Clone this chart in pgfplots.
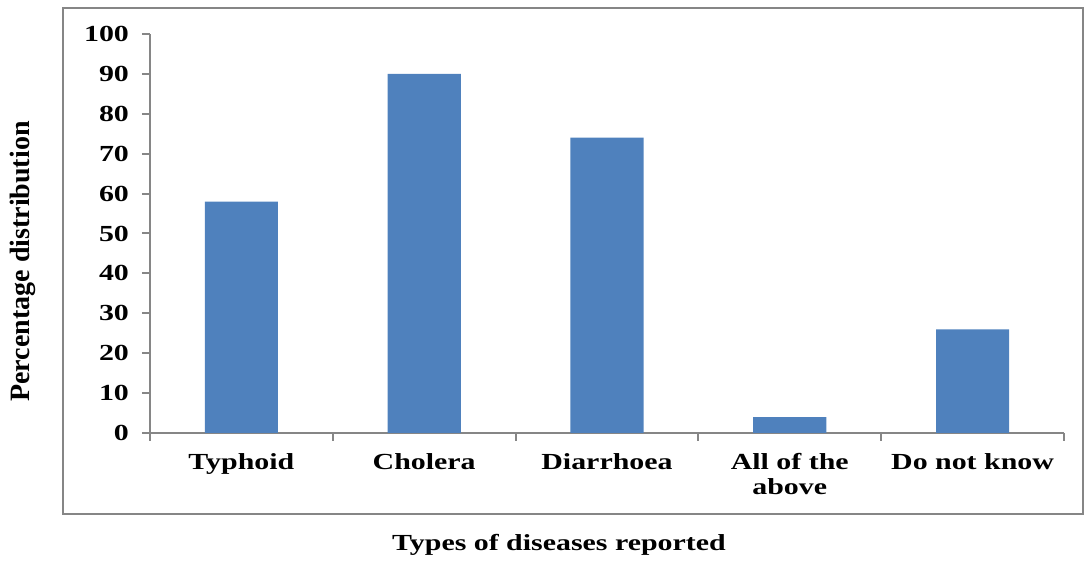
\documentclass[border=0pt]{standalone}
\usepackage{fontspec}
\setmainfont{Liberation Serif}
\newfontfamily\wide{Liberation Serif}[FakeStretch=1.3]
\usepackage{pgfplots}
\pgfplotsset{compat=1.18}
\definecolor{barblue}{HTML}{4F81BD}
\definecolor{axisgray}{HTML}{868686}
\begin{document}
\begin{tikzpicture}
\path (-75pt,-62.5pt) rectangle (467pt,216.5pt);
\draw[axisgray, line width=1.2pt] (-43.5pt,-40.5pt) rectangle (466.4pt,212.5pt);
\begin{axis}[
    scale only axis,
    width=457pt, height=199.5pt,
    at={(0,0)}, anchor=south west,
    ybar, bar width=0.4, bar shift=0pt,
    xmin=-0.5, xmax=4.5,
    ymin=0, ymax=100,
    axis x line*=bottom, axis y line*=left,
    axis line style={axisgray, line width=1pt},
    xtick={0,1,2,3,4},
    xticklabels={Typhoid, Cholera, Diarrhoea, {All of the\\above}, Do not know},
    minor xtick={-0.5,0.5,1.5,2.5,3.5,4.5},
    ytick={0,10,...,100},
    major x tick style={draw=none},
    minor x tick style={axisgray, line width=1pt},
    major y tick style={axisgray, line width=1pt},
    tick align=outside,
    major tick length=4pt, minor tick length=4pt,
    /pgf/number format/assume math mode=true,
    xticklabel style={font=\wide\bfseries\fontsize{11.5}{12.5}\selectfont, align=center, anchor=north, yshift=-2.5pt},
    yticklabel style={font=\wide\bfseries\fontsize{11.5}{13}\selectfont, anchor=east, xshift=-3pt},
    tick label style={text=black},
]
\addplot[fill=barblue, draw=none] coordinates {(0,58) (1,90) (2,74) (3,4) (4,26)};
\end{axis}
\node[font=\wide\bfseries\fontsize{11.5}{13}\selectfont] at (204.5pt,-56pt) {Types of diseases reported};
\node[font=\bfseries\fontsize{14}{16}\selectfont, rotate=90] at (-63.5pt,85.75pt) {Percentage distribution};
\end{tikzpicture}
\end{document}
